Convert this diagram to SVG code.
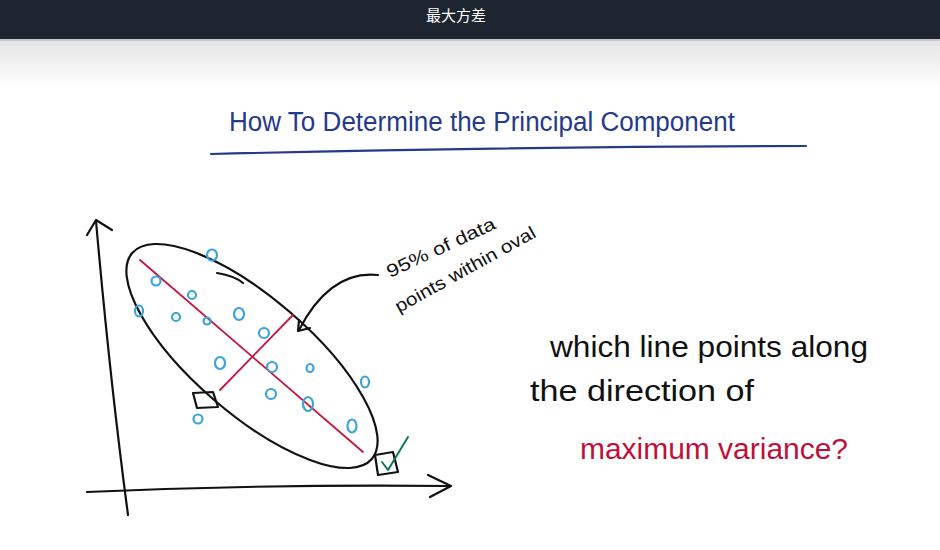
<svg xmlns="http://www.w3.org/2000/svg" width="940" height="550" viewBox="0 0 940 550">
<defs>
<linearGradient id="shade" x1="0" y1="0" x2="0" y2="1">
<stop offset="0" stop-color="#e4e4e4"/>
<stop offset="1" stop-color="#ffffff"/>
</linearGradient>
<style>
.ink{fill:none;stroke:#111;stroke-width:2.2;stroke-linecap:round;stroke-linejoin:round}
.red{fill:none;stroke:#c8143c;stroke-width:1.8;stroke-linecap:round}
.pt{fill:none;stroke:#3ba3e0;stroke-width:2.2}
.hand{font-family:"Liberation Sans","Noto Sans",sans-serif}
</style>
</defs>
<rect width="940" height="550" fill="#fff"/>
<rect x="0" y="39" width="940" height="50" fill="url(#shade)"/>
<rect x="0" y="39" width="940" height="2" fill="#c8c8c8"/>
<rect x="0" y="0" width="940" height="39" fill="#1d2630"/>
<text x="456" y="21" text-anchor="middle" font-family="'Noto Sans CJK SC','Noto Sans',sans-serif" font-size="15" fill="#fff">最大方差</text>

<g id="title">
<text class="hand" x="229" y="131" font-size="27" fill="#253a8c" textLength="506" lengthAdjust="spacingAndGlyphs">How To Determine the Principal Component</text>
<path d="M211 154 Q500 147 806 146" fill="none" stroke="#253a8c" stroke-width="2.2" stroke-linecap="round"/>
</g>

<g id="axes">
<path class="ink" d="M128 515 Q110 380 96 221"/>
<path class="ink" d="M87 235 L96 220 L112 230"/>
<path class="ink" d="M87 492 Q270 484 450 486"/>
<path class="ink" d="M428 475 L451 486 L430 497"/>
</g>

<g id="oval">
<ellipse cx="252" cy="356" rx="158" ry="58" transform="rotate(40.7 252 356)" class="ink"/>
<path class="ink" d="M217 273 Q235 276 243 283"/>
<path class="red" d="M140 260 L363 452"/>
<path class="red" d="M220 390 L293 315"/>
</g>

<g id="points">
<ellipse class="pt" cx="212" cy="255" rx="5" ry="5.5"/>
<ellipse class="pt" cx="156" cy="281" rx="4.5" ry="4.5"/>
<ellipse class="pt" cx="192" cy="295" rx="4" ry="4"/>
<ellipse class="pt" cx="139" cy="311" rx="4" ry="5.5"/>
<ellipse class="pt" cx="176" cy="317" rx="4" ry="4"/>
<ellipse class="pt" cx="207" cy="321" rx="3.5" ry="3.5"/>
<ellipse class="pt" cx="239" cy="314" rx="5" ry="6"/>
<ellipse class="pt" cx="264" cy="333" rx="5" ry="5"/>
<ellipse class="pt" cx="220" cy="363" rx="5" ry="6"/>
<ellipse class="pt" cx="272" cy="367" rx="5" ry="5"/>
<ellipse class="pt" cx="310" cy="368" rx="3.5" ry="4"/>
<ellipse class="pt" cx="365" cy="382" rx="4" ry="5.5"/>
<ellipse class="pt" cx="271" cy="394" rx="5" ry="5"/>
<ellipse class="pt" cx="308" cy="404" rx="5" ry="7"/>
<ellipse class="pt" cx="352" cy="426" rx="4.5" ry="6.5"/>
<ellipse class="pt" cx="198" cy="419" rx="4.5" ry="4.5"/>
</g>

<g id="wrong-box">
<path class="ink" d="M193 393 L213 392 L218 407 L197 408 Z"/>
</g>

<g id="right-box">
<path class="ink" d="M375 455 L393 452 L398 472 L378 475 Z"/>
<path d="M382 462 L388 470 L408 437" fill="none" stroke="#0b7a55" stroke-width="2" stroke-linecap="round" stroke-linejoin="round"/>
</g>

<g id="note">
<path class="ink" d="M378 275 Q330 270 299 330"/>
<path class="ink" d="M299 320 L298 331 L310 328"/>
<text class="hand" x="390" y="278" font-size="18" fill="#111" transform="rotate(-25 390 278)" textLength="118" lengthAdjust="spacingAndGlyphs">95% of data</text>
<text class="hand" x="399" y="313" font-size="18" fill="#111" transform="rotate(-29 399 313)" textLength="158" lengthAdjust="spacingAndGlyphs">points within oval</text>
</g>

<g id="question">
<text class="hand" x="550" y="357" font-size="29" fill="#111" textLength="318" lengthAdjust="spacingAndGlyphs">which line points along</text>
<text class="hand" x="530" y="401" font-size="29" fill="#111" textLength="224" lengthAdjust="spacingAndGlyphs">the direction of</text>
<text class="hand" x="580" y="459" font-size="29" fill="#c0103a" textLength="268" lengthAdjust="spacingAndGlyphs">maximum variance?</text>
</g>
</svg>
